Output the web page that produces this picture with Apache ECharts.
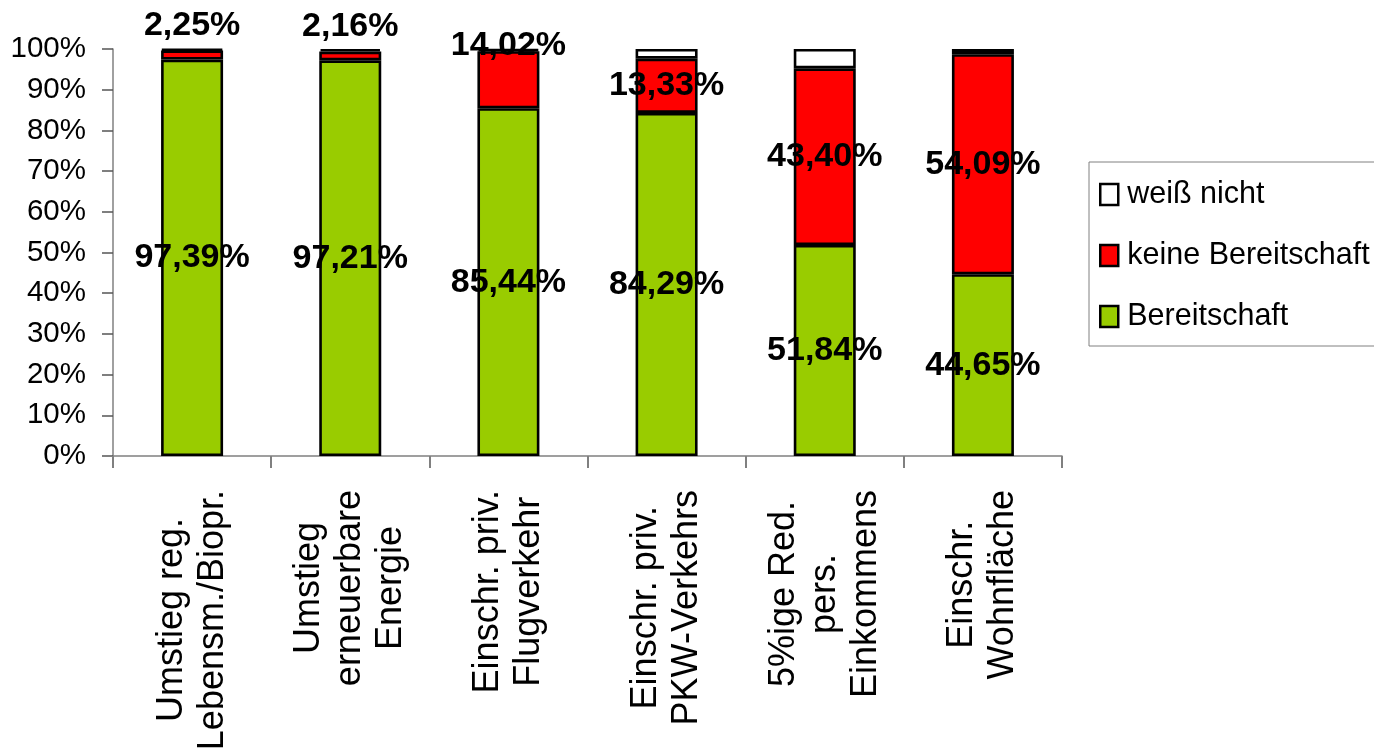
<!DOCTYPE html>
<html>
<head>
<meta charset="utf-8">
<script src="https://cdn.jsdelivr.net/npm/echarts@6/dist/echarts.min.js"></script>
<style>
html, body { margin: 0; padding: 0; background: #ffffff; }
#chart { width: 1374px; height: 754px; }
</style>
</head>
<body>
<div id="chart"></div>
<script>
// ---- data ----
const categories = [
  'Umstieg reg.\nLebensm./Biopr.',
  'Umstieg\nerneuerbare\nEnergie',
  'Einschr. priv.\nFlugverkehr',
  'Einschr. priv.\nPKW-Verkehrs',
  '5%ige Red.\npers.\nEinkommens',
  'Einschr.\nWohnfläche'
];
const seriesNames = ['weiß nicht', 'keine Bereitschaft', 'Bereitschaft'];
const bereitschaft = [97.39, 97.21, 85.44, 84.29, 51.84, 44.65];
const keineBereitschaft = [2.25, 2.16, 14.02, 13.33, 43.40, 54.09];
const weissNicht = [0.36, 0.63, 0.54, 2.38, 4.76, 1.26];
const yMin = 0, yMax = 100, yStep = 10;

// ---- styling ----
const FONT = "'Liberation Sans', Arial, sans-serif";
const fmtPct = v => v.toFixed(2).replace('.', ',') + '%';
const border = { borderColor: '#000000', borderWidth: 2.6 };
const valueLabel = {
  show: true,
  color: '#000000',
  fontFamily: FONT,
  fontWeight: 'bold',
  fontSize: 34,
  formatter: p => fmtPct(p.value)
};

// label placement for the "keine Bereitschaft" segment (as in the reference)
const keineData = keineBereitschaft.map((v, i) => {
  if (i < 2) return { value: v, label: { position: 'top', distance: 8 } };
  if (i === 2) return { value: v, label: { position: 'top', distance: -11 } };
  return { value: v };
});

const chart = echarts.init(document.getElementById('chart'), null, { renderer: 'canvas' });
chart.setOption({
  backgroundColor: '#ffffff',
  animation: false,
  grid: { left: 113, right: 312, top: 49, bottom: 298, containLabel: false, outerBoundsMode: 'none' },
  legend: {
    orient: 'vertical',
    left: 1089,
    top: 162,
    data: seriesNames,
    icon: 'rect',
    itemWidth: 18,
    itemHeight: 21,
    itemGap: 30,
    padding: [17, 30, 14, 10],
    borderColor: '#808080',
    borderWidth: 1,
    itemStyle: { borderColor: '#000000', borderWidth: 2.5 },
    textStyle: { fontFamily: FONT, fontSize: 30.5, lineHeight: 30, color: '#000000', padding: [0, 0, 0, 4] }
  },
  xAxis: {
    type: 'category',
    data: categories,
    boundaryGap: true,
    axisLine: { show: true, lineStyle: { color: '#808080', width: 1.5 } },
    axisTick: { show: true, alignWithLabel: false, length: 12, interval: 0, lineStyle: { color: '#808080', width: 2 } },
    axisLabel: {
      interval: 0,
      rotate: 90,
      margin: 34,
      color: '#000000',
      fontFamily: FONT,
      fontSize: 36,
      lineHeight: 41,
      formatter: v => v.split('\n').map(s => '{c|' + s + '}').join('\n'),
      rich: { c: { align: 'center', fontFamily: FONT, fontSize: 36, lineHeight: 41, color: '#000000' } }
    }
  },
  yAxis: {
    type: 'value',
    min: yMin,
    max: yMax,
    interval: yStep,
    splitLine: { show: false },
    axisLine: { show: true, lineStyle: { color: '#808080', width: 1.5 } },
    axisTick: { show: true, length: 11, lineStyle: { color: '#555555', width: 1.5 } },
    axisLabel: { formatter: '{value}%', margin: 27, color: '#000000', fontFamily: FONT, fontSize: 29.5 }
  },
  series: [
    {
      name: 'Bereitschaft', type: 'bar', stack: 'total', barWidth: 62,
      data: bereitschaft,
      itemStyle: Object.assign({ color: '#99CC00' }, border),
      label: Object.assign({ position: 'inside' }, valueLabel)
    },
    {
      name: 'keine Bereitschaft', type: 'bar', stack: 'total', barWidth: 62,
      data: keineData,
      itemStyle: Object.assign({ color: '#FF0000' }, border),
      label: Object.assign({ position: 'inside' }, valueLabel)
    },
    {
      name: 'weiß nicht', type: 'bar', stack: 'total', barWidth: 62,
      data: weissNicht,
      itemStyle: Object.assign({ color: '#FFFFFF' }, border),
      label: { show: false }
    }
  ]
});
</script>
</body>
</html>
